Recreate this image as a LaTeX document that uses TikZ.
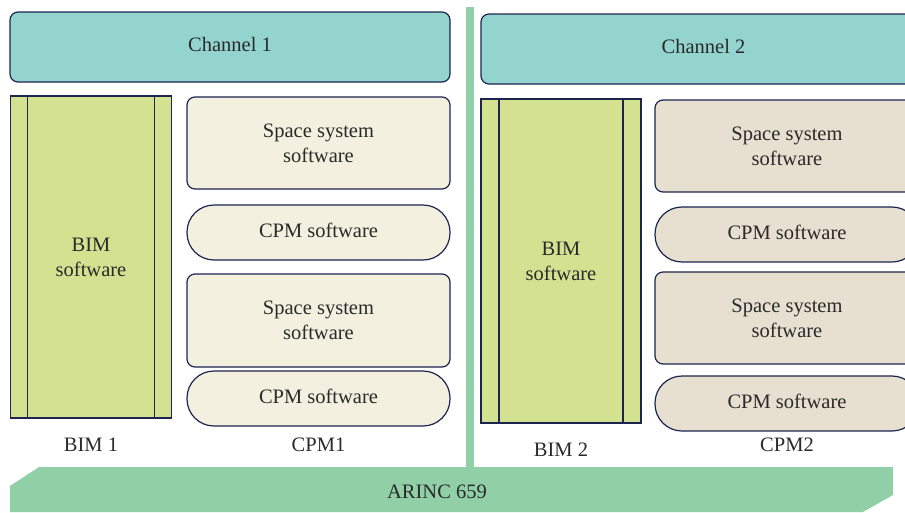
\documentclass[tikz,border=0pt]{standalone}
\usepackage{fontspec}
\setmainfont{Liberation Serif}
\usetikzlibrary{calc}
\definecolor{chan}{HTML}{93D4CF}
\definecolor{bimg}{HTML}{D4E190}
\definecolor{cpma}{HTML}{F3F0DF}
\definecolor{cpmb}{HTML}{E7DFD0}
\definecolor{busg}{HTML}{91CFA7}
\definecolor{edge}{HTML}{1C2550}
\definecolor{txt}{HTML}{2A2A2A}
\begin{document}
\begin{tikzpicture}[x=1pt,y=-1pt,
  every node/.style={text=txt,font=\fontsize{20.5}{25}\selectfont,align=center,inner sep=0pt,outer sep=0pt},
  chanbox/.style={draw=edge,line width=1.2pt,fill=chan,rounded corners=8pt,minimum height=70pt,text depth=5pt},
  bimbox/.style={draw=edge,line width=1.2pt,fill=bimg,minimum width=161pt},
  swbox/.style={draw=edge,line width=1.2pt,rounded corners=8pt,minimum height=92pt},
  pill/.style={draw=edge,line width=1.2pt,rounded corners=27pt,minimum height=55pt,text depth=4pt},
  strip/.style={draw=edge,line width=1.2pt},
  lbl/.style={}]
\useasboundingbox (0,0) rectangle (905,512);
\clip (0,0) rectangle (905,512);
% vertical bus bar
\fill[busg] (466,7) rectangle (474,470);
% ARINC bus
\fill[busg] (10,486) -- (39,467) -- (893,467) -- (893,495) -- (863,512) -- (10,512) -- cycle;
\node (bus) at (437,492) {ARINC 659};
% channels
\node[chanbox,minimum width=440pt] (ch1) at (230,47) {Channel 1};
\node[chanbox,minimum width=445pt] (ch2) at (703.5,49) {Channel 2};
% BIM 1
\node[bimbox,minimum height=322pt] (bim1) at (91,257) {BIM\\software};
\draw[strip] ([xshift=17pt]bim1.north west) -- ([xshift=17pt]bim1.south west);
\draw[strip] ([xshift=-17pt]bim1.north east) -- ([xshift=-17pt]bim1.south east);
\node[lbl] (l1) at (91,445) {BIM 1};
% CPM 1
\node[swbox,fill=cpma,minimum width=263pt] (s1) at (318.5,143) {Space system\\software};
\node[pill,fill=cpma,minimum width=263pt] (c1) at (318.5,232.5) {CPM software};
\node[swbox,fill=cpma,minimum width=263pt,minimum height=93pt] (s2) at (318.5,320.5) {Space system\\software};
\node[pill,fill=cpma,minimum width=263pt] (c2) at (318.5,398.5) {CPM software};
\node[lbl] (l2) at (318.5,445) {CPM1};
% BIM 2
\node[bimbox,minimum width=160pt,minimum height=324pt] (bim2) at (561,261) {BIM\\software};
\draw[strip] ([xshift=18pt]bim2.north west) -- ([xshift=18pt]bim2.south west);
\draw[strip] ([xshift=-18pt]bim2.north east) -- ([xshift=-18pt]bim2.south east);
\node[lbl] (l3) at (561,450) {BIM 2};
% CPM 2
\node[swbox,fill=cpmb,minimum width=264pt] (s3) at (787,146) {Space system\\software};
\node[pill,fill=cpmb,minimum width=264pt] (c3) at (787,234.5) {CPM software};
\node[swbox,fill=cpmb,minimum width=264pt] (s4) at (787,318) {Space system\\software};
\node[pill,fill=cpmb,minimum width=264pt] (c4) at (787,403.5) {CPM software};
\node[lbl] (l4) at (787,445) {CPM2};
\end{tikzpicture}
\end{document}
